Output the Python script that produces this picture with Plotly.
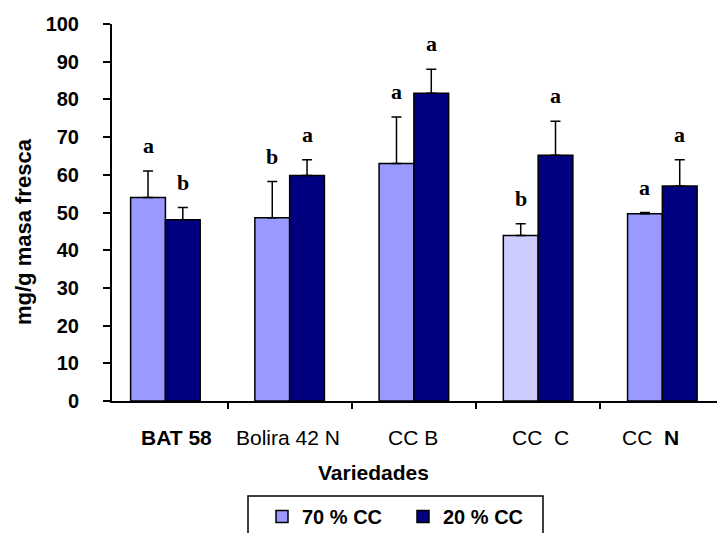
import plotly.graph_objects as go

# ---- data ----
categories = ["BAT 58", "Bolira 42 N", "CC B", "CC C", "CC N"]
tick_labels = ["<b>BAT 58</b>", "Bolira 42 N", "CC B", "CC\u00a0\u00a0C", "CC\u00a0\u00a0<b>N</b>"]
series_names = ["70 % CC", "20 % CC"]
vals_70 = [54.0, 48.6, 63.0, 43.9, 49.7]
err_70 = [7.0, 9.6, 12.3, 3.1, 0.3]
vals_20 = [48.1, 59.8, 81.6, 65.2, 57.0]
err_20 = [3.2, 4.2, 6.4, 9.0, 7.0]
letters_70 = ["a", "b", "a", "b", "a"]
letters_20 = ["b", "a", "a", "a", "a"]
y_ticks = list(range(0, 101, 10))
y_title = "mg/g masa fresca"
x_title = "Variedades"

# ---- styles ----
c70 = "#9999FF"
c70_alt = "#CCCCFF"
c20 = "#000080"
FONT = "Liberation Sans, Arial, sans-serif"
SERIF = "Liberation Serif, Times New Roman, serif"

colors_70 = [c70, c70, c70, c70_alt, c70]

W, H = 717, 533
L, R, T, B = 112, 0, 24, 132
pw, ph = W - L - R, H - T - B


def px_x(p):
    return (p - L) / pw


def px_y(p):
    return (H - B - p) / ph


fig = go.Figure()
fig.add_trace(go.Bar(
    x=categories, y=vals_70, name="<b>%s</b>" % series_names[0],
    marker=dict(color=colors_70, line=dict(color="black", width=1.5)),
    error_y=dict(type="data", array=err_70, visible=True, color="black",
                 thickness=1.5, width=5, symmetric=False, arrayminus=[0]*5),
))
fig.add_trace(go.Bar(
    x=categories, y=vals_20, name="<b>%s</b>" % series_names[1],
    marker=dict(color=c20, line=dict(color="black", width=1.5)),
    error_y=dict(type="data", array=err_20, visible=True, color="black",
                 thickness=1.5, width=5, symmetric=False, arrayminus=[0]*5),
))

ann = []
# significance letters
for i in range(len(categories)):
    for letters, vals, errs, dx in ((letters_70, vals_70, err_70, -0.14),
                                    (letters_20, vals_20, err_20, 0.14)):
        ann.append(dict(x=i + dx, y=vals[i] + errs[i], xref="x", yref="y",
                        text="<b>%s</b>" % letters[i], showarrow=False,
                        yanchor="bottom", yshift=11,
                        font=dict(family=SERIF, size=22, color="black")))

# category labels
label_shift = [11, -2, -1, 2, -12]
for i, lab in enumerate(tick_labels):
    ann.append(dict(x=i, y=0, xref="x", yref="y", text=lab, showarrow=False,
                    xshift=label_shift[i], yshift=-36, yanchor="middle",
                    font=dict(family=FONT, size=21, color="black")))

# x title
ann.append(dict(x=px_x(373), y=px_y(472), xref="paper", yref="paper",
                text="<b>%s</b>" % x_title, showarrow=False,
                xanchor="center", yanchor="middle",
                font=dict(family=FONT, size=21, color="black")))
# y title
ann.append(dict(x=px_x(23), y=px_y(232), xref="paper", yref="paper",
                text="<b>%s</b>" % y_title, showarrow=False, textangle=-90,
                xanchor="center", yanchor="middle",
                font=dict(family=FONT, size=22, color="black")))

fig.update_layout(annotations=ann)

# legend box
fig.add_shape(type="rect", xref="paper", yref="paper",
              x0=px_x(248), x1=px_x(543), y0=px_y(496), y1=px_y(560),
              line=dict(color="black", width=1.5), fillcolor="white", layer="below")

fig.update_layout(
    width=W, height=H,
    margin=dict(l=L, r=R, t=T, b=B, autoexpand=False),
    paper_bgcolor="white", plot_bgcolor="white",
    barmode="group", bargap=0.44, bargroupgap=0,
    showlegend=True,
    legend=dict(orientation="h", x=px_x(262), y=px_y(497), xanchor="left", yanchor="top",
                font=dict(family=FONT, size=20, color="black"),
                bgcolor="rgba(0,0,0,0)", borderwidth=0,
                entrywidth=96, entrywidthmode="pixels",
                traceorder="normal"),
    xaxis=dict(range=[-0.43, 4.44], showticklabels=False, tickson="boundaries",
               ticks="outside", ticklen=6, tickcolor="black", tickwidth=1.5,
               showline=True, linecolor="black", linewidth=1.5, automargin=False,
               showgrid=False, zeroline=False, fixedrange=True),
    yaxis=dict(range=[0, 100], tickvals=y_ticks, ticks="outside", ticklen=7,
               tickcolor="black", tickwidth=1.5, showline=True, linecolor="black",
               linewidth=2, showgrid=False, zeroline=False, automargin=False,
               tickfont=dict(family=FONT, size=20, color="black", weight="bold"),
               ticklabelstandoff=20, fixedrange=True),
    font=dict(family=FONT, color="black"),
)

fig.write_html("out.html", config={"displayModeBar": False},
               post_script="document.body.style.margin='0';document.body.style.overflow='hidden';")
